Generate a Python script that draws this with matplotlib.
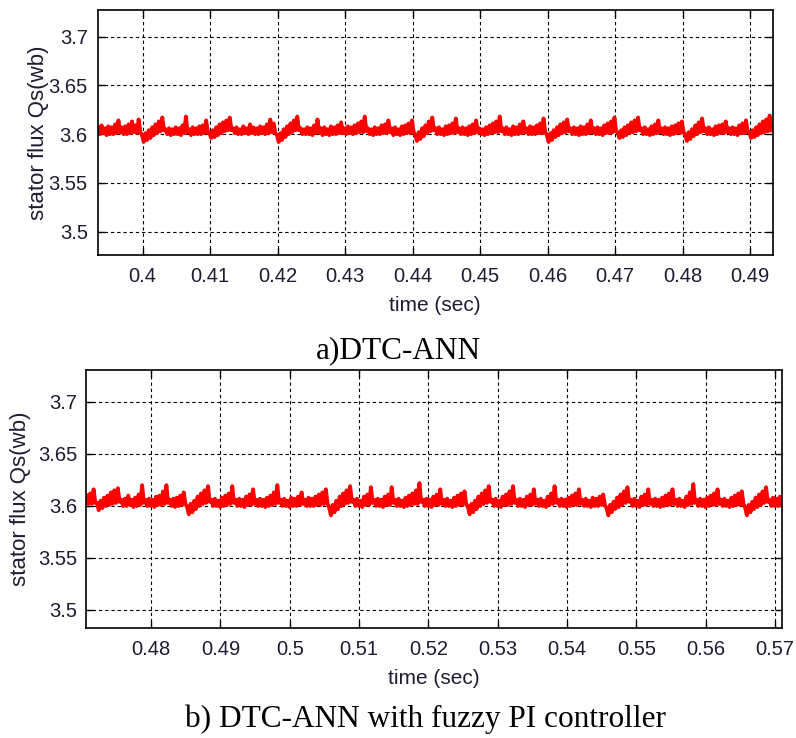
import numpy as np
import matplotlib
matplotlib.use('Agg')
import matplotlib.pyplot as plt

# 定子磁链波形，每 0.5 ms 取一对上/下包络值
dt = 0.0005

t0_a = 0.3934
flux_a_hi = [
    3.607, 3.609, 3.606, 3.608, 3.607, 3.610, 3.614, 3.607, 3.608, 3.610,
    3.613, 3.609, 3.615, 3.599, 3.601, 3.604, 3.607, 3.610, 3.613, 3.617,
    3.605, 3.606, 3.605, 3.607, 3.606, 3.609, 3.618, 3.605, 3.607, 3.606,
    3.608, 3.609, 3.614, 3.601, 3.604, 3.607, 3.610, 3.612, 3.614, 3.617,
    3.606, 3.607, 3.605, 3.608, 3.606, 3.610, 3.607, 3.606, 3.608, 3.607,
    3.610, 3.615, 3.611, 3.599, 3.601, 3.605, 3.608, 3.611, 3.614, 3.618,
    3.606, 3.605, 3.607, 3.606, 3.609, 3.615, 3.606, 3.607, 3.605, 3.608,
    3.607, 3.609, 3.612, 3.606, 3.608, 3.607, 3.609, 3.611, 3.613, 3.618,
    3.606, 3.605, 3.607, 3.606, 3.609, 3.610, 3.614, 3.606, 3.607, 3.605,
    3.608, 3.609, 3.611, 3.614, 3.599, 3.602, 3.606, 3.609, 3.613, 3.617,
    3.606, 3.607, 3.605, 3.608, 3.609, 3.611, 3.616, 3.606, 3.607, 3.606,
    3.608, 3.610, 3.614, 3.606, 3.605, 3.607, 3.609, 3.611, 3.613, 3.618,
    3.606, 3.607, 3.605, 3.608, 3.607, 3.610, 3.613, 3.606, 3.608, 3.607,
    3.609, 3.611, 3.616, 3.599, 3.601, 3.604, 3.607, 3.610, 3.612, 3.615,
    3.606, 3.607, 3.606, 3.608, 3.607, 3.610, 3.614, 3.606, 3.607, 3.606,
    3.609, 3.611, 3.613, 3.617, 3.602, 3.604, 3.607, 3.609, 3.612, 3.614,
    3.617, 3.606, 3.607, 3.605, 3.608, 3.610, 3.614, 3.606, 3.607, 3.606,
    3.608, 3.609, 3.611, 3.613, 3.599, 3.602, 3.605, 3.609, 3.612, 3.616,
    3.606, 3.607, 3.605, 3.608, 3.609, 3.610, 3.613, 3.606, 3.607, 3.606,
    3.609, 3.611, 3.614, 3.602, 3.604, 3.607, 3.610, 3.613, 3.615, 3.619,
]
flux_a_lo = [
    3.600, 3.601, 3.599, 3.600, 3.600, 3.601, 3.602, 3.600, 3.600, 3.601,
    3.602, 3.601, 3.602, 3.592, 3.594, 3.596, 3.599, 3.601, 3.603, 3.604,
    3.600, 3.599, 3.600, 3.600, 3.599, 3.601, 3.602, 3.599, 3.600, 3.600,
    3.600, 3.601, 3.602, 3.596, 3.597, 3.599, 3.601, 3.603, 3.604, 3.604,
    3.601, 3.600, 3.600, 3.601, 3.600, 3.601, 3.600, 3.600, 3.601, 3.600,
    3.601, 3.602, 3.601, 3.592, 3.594, 3.597, 3.600, 3.602, 3.604, 3.604,
    3.600, 3.600, 3.600, 3.599, 3.601, 3.602, 3.599, 3.600, 3.599, 3.600,
    3.600, 3.601, 3.601, 3.600, 3.601, 3.600, 3.601, 3.602, 3.602, 3.603,
    3.600, 3.599, 3.600, 3.600, 3.601, 3.601, 3.602, 3.599, 3.600, 3.599,
    3.600, 3.601, 3.601, 3.602, 3.593, 3.595, 3.598, 3.601, 3.603, 3.604,
    3.600, 3.600, 3.599, 3.600, 3.601, 3.601, 3.602, 3.600, 3.600, 3.599,
    3.600, 3.601, 3.602, 3.600, 3.599, 3.600, 3.601, 3.602, 3.602, 3.603,
    3.600, 3.600, 3.599, 3.600, 3.600, 3.601, 3.602, 3.600, 3.600, 3.600,
    3.601, 3.601, 3.602, 3.592, 3.594, 3.597, 3.599, 3.601, 3.602, 3.603,
    3.600, 3.600, 3.599, 3.600, 3.600, 3.601, 3.602, 3.600, 3.600, 3.599,
    3.601, 3.601, 3.602, 3.603, 3.596, 3.597, 3.599, 3.601, 3.602, 3.603,
    3.604, 3.600, 3.600, 3.599, 3.600, 3.601, 3.602, 3.600, 3.600, 3.599,
    3.600, 3.601, 3.601, 3.602, 3.593, 3.595, 3.598, 3.600, 3.602, 3.603,
    3.600, 3.600, 3.599, 3.600, 3.601, 3.601, 3.602, 3.600, 3.600, 3.599,
    3.601, 3.601, 3.602, 3.596, 3.597, 3.599, 3.601, 3.602, 3.603, 3.604,
]

t0_b = 0.4707
flux_b_hi = [
    3.610, 3.612, 3.616, 3.603, 3.605, 3.608, 3.610, 3.613, 3.615, 3.617,
    3.606, 3.607, 3.610, 3.606, 3.608, 3.611, 3.620, 3.606, 3.607, 3.606,
    3.609, 3.610, 3.614, 3.620, 3.606, 3.607, 3.608, 3.610, 3.613, 3.599,
    3.602, 3.605, 3.609, 3.612, 3.615, 3.619, 3.606, 3.607, 3.605, 3.608,
    3.610, 3.612, 3.619, 3.606, 3.607, 3.606, 3.609, 3.611, 3.616, 3.606,
    3.607, 3.606, 3.608, 3.610, 3.613, 3.620, 3.606, 3.607, 3.605, 3.608,
    3.607, 3.609, 3.613, 3.606, 3.608, 3.607, 3.609, 3.611, 3.613, 3.616,
    3.598, 3.601, 3.605, 3.609, 3.612, 3.615, 3.619, 3.606, 3.607, 3.605,
    3.609, 3.611, 3.618, 3.606, 3.607, 3.606, 3.609, 3.611, 3.618, 3.606,
    3.607, 3.605, 3.608, 3.610, 3.612, 3.615, 3.622, 3.606, 3.607, 3.606,
    3.609, 3.611, 3.616, 3.606, 3.607, 3.605, 3.608, 3.610, 3.612, 3.614,
    3.599, 3.602, 3.605, 3.609, 3.612, 3.615, 3.619, 3.606, 3.607, 3.605,
    3.609, 3.611, 3.614, 3.619, 3.606, 3.607, 3.606, 3.609, 3.611, 3.616,
    3.606, 3.607, 3.605, 3.609, 3.612, 3.619, 3.606, 3.607, 3.606, 3.608,
    3.610, 3.612, 3.616, 3.606, 3.607, 3.605, 3.608, 3.607, 3.609, 3.611,
    3.598, 3.601, 3.604, 3.608, 3.611, 3.614, 3.618, 3.606, 3.607, 3.605,
    3.609, 3.611, 3.616, 3.606, 3.607, 3.606, 3.608, 3.610, 3.612, 3.616,
    3.606, 3.607, 3.605, 3.609, 3.613, 3.621, 3.606, 3.607, 3.606, 3.608,
    3.610, 3.612, 3.616, 3.606, 3.607, 3.605, 3.608, 3.610, 3.612, 3.614,
    3.598, 3.601, 3.604, 3.608, 3.611, 3.614, 3.618, 3.606, 3.608, 3.607,
    3.609,
]
flux_b_lo = [
    3.602, 3.602, 3.603, 3.596, 3.598, 3.600, 3.601, 3.602, 3.603, 3.604,
    3.600, 3.600, 3.601, 3.599, 3.600, 3.601, 3.603, 3.600, 3.600, 3.599,
    3.601, 3.601, 3.602, 3.603, 3.600, 3.599, 3.600, 3.601, 3.602, 3.592,
    3.594, 3.597, 3.600, 3.602, 3.603, 3.604, 3.600, 3.600, 3.599, 3.600,
    3.601, 3.602, 3.603, 3.600, 3.600, 3.599, 3.601, 3.601, 3.602, 3.600,
    3.600, 3.599, 3.600, 3.601, 3.602, 3.603, 3.600, 3.600, 3.599, 3.600,
    3.600, 3.601, 3.602, 3.600, 3.600, 3.600, 3.601, 3.601, 3.602, 3.602,
    3.591, 3.594, 3.597, 3.600, 3.602, 3.603, 3.604, 3.600, 3.600, 3.599,
    3.601, 3.601, 3.603, 3.600, 3.600, 3.599, 3.601, 3.601, 3.603, 3.600,
    3.600, 3.599, 3.600, 3.601, 3.602, 3.602, 3.604, 3.600, 3.600, 3.599,
    3.601, 3.601, 3.602, 3.600, 3.600, 3.599, 3.600, 3.601, 3.601, 3.602,
    3.592, 3.594, 3.597, 3.600, 3.602, 3.603, 3.604, 3.600, 3.600, 3.599,
    3.601, 3.601, 3.602, 3.603, 3.600, 3.600, 3.599, 3.601, 3.601, 3.602,
    3.600, 3.600, 3.599, 3.601, 3.602, 3.603, 3.600, 3.600, 3.599, 3.600,
    3.601, 3.601, 3.602, 3.600, 3.600, 3.599, 3.600, 3.600, 3.601, 3.601,
    3.591, 3.594, 3.597, 3.599, 3.601, 3.603, 3.604, 3.600, 3.600, 3.599,
    3.601, 3.601, 3.602, 3.600, 3.600, 3.599, 3.600, 3.601, 3.601, 3.602,
    3.600, 3.600, 3.599, 3.601, 3.602, 3.603, 3.600, 3.600, 3.599, 3.600,
    3.601, 3.601, 3.602, 3.600, 3.600, 3.599, 3.600, 3.601, 3.601, 3.602,
    3.591, 3.594, 3.597, 3.599, 3.601, 3.603, 3.604, 3.600, 3.600, 3.600,
    3.601,
]

# 坐标轴范围和刻度
xlim_a = (0.3933, 0.4934)
ylim_a = (3.476, 3.7274)
xticks_a = [0.40, 0.41, 0.42, 0.43, 0.44, 0.45, 0.46, 0.47, 0.48, 0.49]
xlim_b = (0.4706, 0.5710)
ylim_b = (3.4827, 3.7308)
xticks_b = [0.48, 0.49, 0.50, 0.51, 0.52, 0.53, 0.54, 0.55, 0.56, 0.57]
yticks = [3.5, 3.55, 3.6, 3.65, 3.7]

tick_font = ['Liberation Sans', 'DejaVu Sans']
txt_color = '#1c1c34'


def zigzag(t0, hi, lo):
    # 上下包络交替连线，画出带毛刺的磁链曲线
    hi = np.asarray(hi)
    lo = np.asarray(lo)
    t = t0 + dt * np.arange(len(hi))
    x = np.column_stack([t, t + dt / 2]).ravel()
    y = np.column_stack([hi, lo]).ravel()
    return x, y


def set_axes(ax, xlim, ylim, xticks, ypad, ylabelpad):
    ax.set_xlim(*xlim)
    ax.set_ylim(*ylim)
    ax.set_xticks(xticks)
    ax.set_yticks(yticks)
    ax.set_xticklabels(['%g' % v for v in xticks])
    ax.set_yticklabels(['%g' % v for v in yticks])
    ax.grid(True, color='k', linestyle=(0, (3, 2.6)), linewidth=0.8)
    ax.tick_params(direction='in', length=5, width=1, top=True, right=True,
                   labelsize=14.5, labelcolor=txt_color)
    ax.tick_params(axis='x', pad=9)
    ax.tick_params(axis='y', pad=ypad)
    for lab in ax.get_xticklabels() + ax.get_yticklabels():
        lab.set_family(tick_font)
    for s in ax.spines.values():
        s.set_linewidth(1.2)
        s.set_color('k')
    ax.set_xlabel('time (sec)', fontsize=15, family=tick_font, color=txt_color, labelpad=7)
    ax.set_ylabel('stator flux Qs(wb)', fontsize=16, family=tick_font, color=txt_color,
                  labelpad=ylabelpad)


fig = plt.figure(figsize=(7.96, 7.38), dpi=100)

ax1 = fig.add_axes([0.1225, 0.6545, 0.8486, 0.3320])
x, y = zigzag(t0_a, flux_a_hi, flux_a_lo)
ax1.plot(x, y, color='#ff0000', linewidth=2.8)
set_axes(ax1, xlim_a, ylim_a, xticks_a, 7, 0)

ax2 = fig.add_axes([0.1080, 0.1491, 0.8744, 0.3496])
x, y = zigzag(t0_b, flux_b_hi, flux_b_lo)
ax2.plot(x, y, color='#ff0000', linewidth=2.8)
set_axes(ax2, xlim_b, ylim_b, xticks_b, 6, 5)

# 图注
fig.text(0.500, 1 - 351 / 738, 'a)DTC-ANN', ha='center', va='center',
         fontsize=22.5, family='Liberation Serif')
fig.text(0.535, 1 - 719 / 738, 'b) DTC-ANN with fuzzy PI controller', ha='center', va='center',
         fontsize=22.5, family='Liberation Serif')

fig.savefig('out.png', dpi=100)
